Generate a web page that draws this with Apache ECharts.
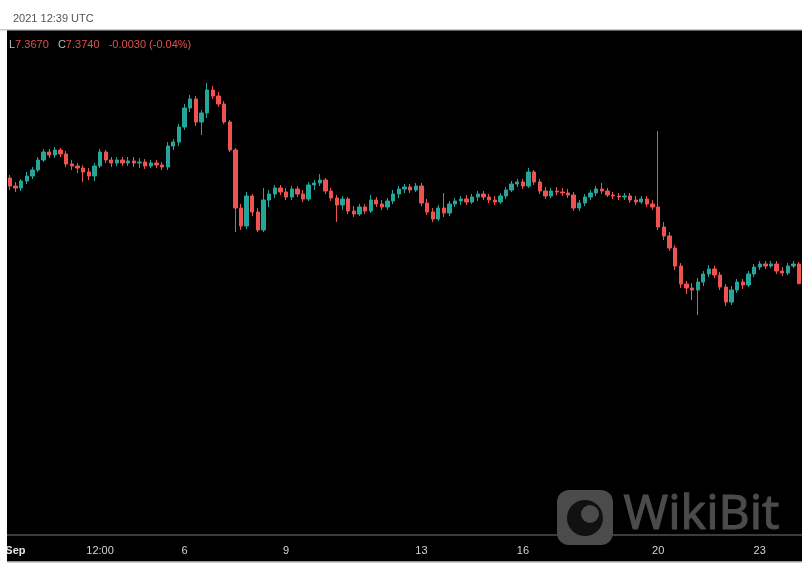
<!DOCTYPE html>
<html>
<head>
<meta charset="utf-8">
<style>
html,body{margin:0;padding:0;background:#fff;}
#chart{width:802px;height:567px;}
</style>
<script src="https://cdn.jsdelivr.net/npm/echarts@6/dist/echarts.min.js"></script>
</head>
<body>
<div id="chart"></div>
<script>
// 4h candles starting 2021-08-31 20:00 UTC
const startTime = Date.UTC(2021, 7, 31, 20, 0);
const candleCount = 141;

const openArr = [
8.43,8.35,8.33,8.40,8.45,8.51,8.61,8.69,8.66,8.71,
8.67,8.57,8.55,8.53,8.49,8.45,8.55,8.69,8.61,8.58,
8.61,8.58,8.60,8.58,8.59,8.55,8.58,8.56,8.54,8.75,
8.79,8.94,9.13,9.22,8.99,9.08,9.31,9.25,9.17,8.99,
8.71,8.13,7.95,8.25,8.09,7.91,8.21,8.27,8.33,8.29,
8.24,8.32,8.27,8.22,8.36,8.38,8.41,8.30,8.23,8.16,
8.22,8.10,8.07,8.14,8.10,8.21,8.17,8.14,8.20,8.27,
8.32,8.34,8.31,8.35,8.18,8.09,8.02,8.13,8.08,8.17,
8.20,8.22,8.19,8.24,8.27,8.24,8.21,8.19,8.25,8.31,
8.37,8.39,8.35,8.49,8.39,8.30,8.25,8.30,8.29,8.28,
8.26,8.13,8.18,8.24,8.28,8.32,8.30,8.26,8.25,8.24,
8.25,8.21,8.19,8.22,8.17,8.14,7.94,7.85,7.73,7.55,
7.37,7.33,7.31,7.39,7.47,7.52,7.46,7.34,7.19,7.31,
7.39,7.36,7.47,7.54,7.57,7.55,7.57,7.50,7.48,7.55,
7.57];

const closeArr = [
8.35,8.33,8.40,8.45,8.51,8.61,8.69,8.66,8.71,8.67,
8.57,8.55,8.53,8.49,8.45,8.55,8.69,8.61,8.58,8.61,
8.58,8.60,8.58,8.59,8.55,8.58,8.56,8.54,8.75,8.79,
8.94,9.13,9.22,8.99,9.08,9.31,9.25,9.17,8.99,8.71,
8.13,7.95,8.25,8.09,7.91,8.21,8.27,8.33,8.29,8.24,
8.32,8.27,8.22,8.36,8.38,8.41,8.30,8.23,8.16,8.22,
8.10,8.07,8.14,8.10,8.21,8.17,8.14,8.20,8.27,8.32,
8.34,8.31,8.35,8.18,8.09,8.02,8.13,8.08,8.17,8.20,
8.22,8.19,8.24,8.27,8.24,8.21,8.19,8.25,8.31,8.37,
8.39,8.35,8.49,8.39,8.30,8.25,8.30,8.29,8.28,8.26,
8.13,8.18,8.24,8.28,8.32,8.30,8.26,8.25,8.24,8.25,
8.21,8.19,8.22,8.17,8.14,7.94,7.85,7.73,7.55,7.37,
7.33,7.31,7.39,7.47,7.52,7.46,7.34,7.19,7.31,7.39,
7.36,7.47,7.54,7.57,7.55,7.57,7.50,7.48,7.55,7.57,
7.374];

const lowArr = [
8.31,8.29,8.30,8.37,8.42,8.49,8.59,8.63,8.63,8.64,
8.54,8.51,8.48,8.39,8.41,8.40,8.53,8.58,8.54,8.55,
8.55,8.55,8.54,8.53,8.52,8.53,8.53,8.51,8.51,8.71,
8.75,8.91,9.09,8.95,8.86,9.03,9.22,9.14,8.97,8.69,
7.89,7.91,7.92,8.05,7.89,7.89,8.14,8.23,8.26,8.21,
8.21,8.24,8.19,8.20,8.31,8.35,8.27,8.20,7.99,8.11,
8.07,8.04,8.05,8.07,8.08,8.14,8.11,8.11,8.17,8.23,
8.28,8.28,8.29,8.15,8.06,7.99,8.00,8.04,8.05,8.14,
8.16,8.16,8.17,8.20,8.21,8.18,8.16,8.17,8.22,8.29,
8.34,8.32,8.33,8.36,8.27,8.22,8.23,8.26,8.25,8.23,
8.10,8.10,8.15,8.21,8.25,8.27,8.24,8.22,8.21,8.21,
8.18,8.16,8.17,8.14,8.11,7.91,7.81,7.70,7.51,7.33,
7.27,7.21,7.06,7.35,7.44,7.43,7.31,7.15,7.16,7.28,
7.32,7.34,7.44,7.51,7.52,7.53,7.47,7.45,7.46,7.53,
7.367];

const highArr = [
8.46,8.39,8.42,8.49,8.54,8.64,8.72,8.72,8.74,8.73,
8.70,8.61,8.58,8.56,8.53,8.58,8.72,8.71,8.64,8.64,
8.64,8.64,8.64,8.63,8.62,8.61,8.61,8.59,8.79,8.82,
8.97,9.17,9.26,9.25,9.11,9.38,9.35,9.29,9.20,9.01,
8.73,8.17,8.29,8.27,8.13,8.33,8.31,8.36,8.36,8.33,
8.35,8.35,8.31,8.39,8.41,8.47,8.43,8.33,8.26,8.25,
8.24,8.15,8.17,8.17,8.26,8.24,8.21,8.23,8.31,8.35,
8.37,8.37,8.38,8.38,8.22,8.13,8.16,8.28,8.20,8.23,
8.25,8.26,8.27,8.30,8.30,8.27,8.25,8.28,8.34,8.40,
8.42,8.42,8.53,8.51,8.42,8.34,8.33,8.34,8.33,8.32,
8.29,8.21,8.27,8.31,8.35,8.38,8.33,8.29,8.28,8.28,
8.28,8.25,8.25,8.25,8.21,8.90,7.99,7.89,7.76,7.58,
7.40,7.38,7.43,7.50,7.56,7.55,7.49,7.37,7.35,7.42,
7.42,7.50,7.57,7.60,7.60,7.60,7.60,7.54,7.58,7.60,
7.59];

const tickTimes  = ['2021-09-01 00:00','2021-09-03 12:00','2021-09-06 00:00','2021-09-09 00:00','2021-09-13 00:00','2021-09-16 00:00','2021-09-20 00:00','2021-09-23 00:00'];
const tickLabels = ['Sep','12:00','6','9','13','16','20','23'];

const headerTime = '2021 12:39 UTC';
const lastLow = '7.3670', lastClose = '7.3740', lastChange = '-0.0030 (-0.04%)';

function pad(n){return (n<10?'0':'')+n;}
const categories = [];
for (let i = 0; i < candleCount; i++) {
  const d = new Date(startTime + i * 4 * 3600 * 1000);
  categories.push(d.getUTCFullYear()+'-'+pad(d.getUTCMonth()+1)+'-'+pad(d.getUTCDate())+' '+pad(d.getUTCHours())+':'+pad(d.getUTCMinutes()));
}
const ohlc = categories.map((c, i) => [openArr[i], closeArr[i], lowArr[i], highArr[i]]);

const chart = echarts.init(document.getElementById('chart'), null, {renderer: 'canvas'});
const UP = '#26a69a', DOWN = '#ef5350';
const FONT = '"Liberation Sans", Arial, sans-serif';
chart.setOption({
  animation: false,
  backgroundColor: '#000',
  grid: {left: 7, right: 0, top: 31, bottom: 32},
  xAxis: {
    type: 'category',
    data: categories,
    boundaryGap: true,
    axisLine: {show: true, lineStyle: {color: '#3c3c3c', width: 2}},
    axisTick: {show: false},
    splitLine: {show: false},
    axisLabel: {
      color: '#d1d4dc',
      fontSize: 11,
      fontFamily: FONT,
      margin: 10,
      interval: function (idx, val) { return tickTimes.indexOf(val) >= 0; },
      formatter: function (val) {
        const k = tickTimes.indexOf(val);
        if (k === 0) return '{b|' + tickLabels[k] + '}';
        return k >= 0 ? tickLabels[k] : '';
      },
      rich: {b: {fontWeight: 'bold', color: '#e0e3eb', fontSize: 11}}
    }
  },
  yAxis: {
    type: 'value',
    min: 4.86,
    max: 9.90,
    show: false,
    splitLine: {show: false}
  },
  series: [{
    type: 'candlestick',
    data: ohlc,
    barWidth: '68%',
    itemStyle: {
      color: UP, color0: DOWN,
      borderColor: UP, borderColor0: DOWN,
      borderWidth: 1
    }
  }],
  graphic: [
    {type: 'rect', shape: {x: 0, y: 0, width: 802, height: 30}, style: {fill: '#fff'}, z: 100},
    {type: 'rect', shape: {x: 0, y: 29, width: 802, height: 1.5}, style: {fill: '#c8c8c8'}, z: 101},
    {type: 'rect', shape: {x: 0, y: 0, width: 7, height: 567}, style: {fill: '#fff'}, z: 100},
    {type: 'rect', shape: {x: 0, y: 562, width: 802, height: 5}, style: {fill: '#fff'}, z: 100},
    {type: 'rect', shape: {x: 7, y: 561, width: 795, height: 1.5}, style: {fill: '#9a9a9a'}, z: 101},
    {type: 'text', left: 13, top: 13, z: 102,
      style: {text: headerTime, fill: '#555', font: '11px ' + FONT}},
    {type: 'text', left: 9, top: 39, z: 102,
      style: {
        text: '{g|L}{r|' + lastLow + '}   {g|C}{r|' + lastClose + '}   {r|' + lastChange + '}',
        font: '11px ' + FONT,
        rich: {
          g: {fill: '#b8bcc6', font: '11px ' + FONT},
          r: {fill: '#e0504d', font: '11px ' + FONT}
        }
      }},
    // WikiBit watermark
    {type: 'rect', shape: {x: 557, y: 490, width: 56, height: 55, r: 12}, style: {fill: '#4b4b4b'}, z: 90},
    {type: 'circle', shape: {cx: 585, cy: 518, r: 18}, style: {fill: '#111'}, z: 91},
    {type: 'circle', shape: {cx: 590, cy: 514, r: 9}, style: {fill: '#4b4b4b'}, z: 92},
    {type: 'text', left: 623, top: 491, z: 90,
      style: {text: 'WikiBit', fill: '#4b4b4b', stroke: '#4b4b4b', lineWidth: 1,
        font: 'normal 48px "Noto Sans", "Open Sans", sans-serif'}}
  ]
});
</script>
</body>
</html>
